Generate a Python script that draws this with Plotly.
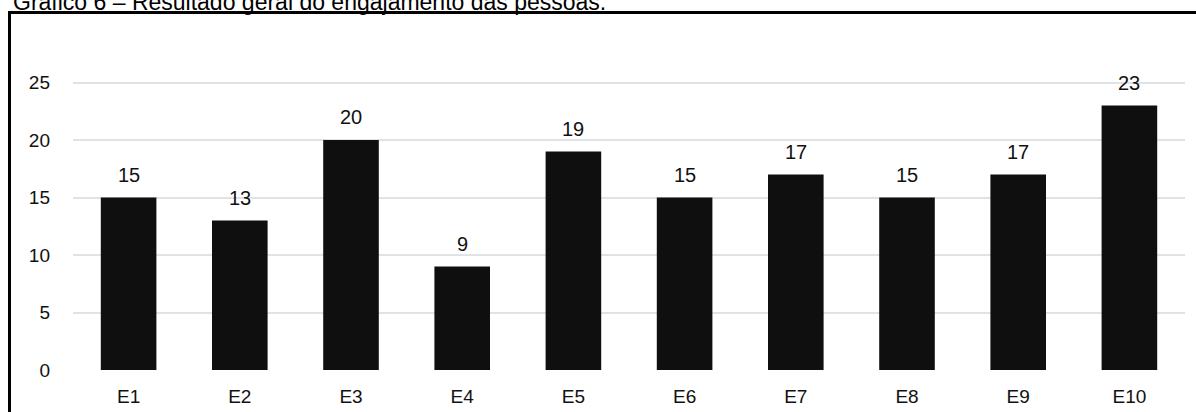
import plotly.graph_objects as go

# Engagement totals per item
categories = ["E1", "E2", "E3", "E4", "E5", "E6", "E7", "E8", "E9", "E10"]
values = [15, 13, 20, 9, 19, 15, 17, 15, 17, 23]
y_ticks = [0, 5, 10, 15, 20, 25]
title_text = "Gráfico 6 – Resultado geral do engajamento das pessoas."

W, H = 1196, 412
ML, MR, MT, MB = 73, 11, 48, 42
Y_MAX = 28
plot_w = W - ML - MR
plot_h = H - MT - MB


def px_x(px):
    return (px - ML) / plot_w


def px_y(py):
    return (H - MB - py) / plot_h


FONT = "Liberation Sans, Arial, sans-serif"

fig = go.Figure(
    go.Bar(
        x=categories,
        y=values,
        marker=dict(color="#0f0f0f", line=dict(width=0)),
        hoverinfo="skip",
    )
)

# value labels above each bar
for c, v in zip(categories, values):
    fig.add_annotation(
        x=c, y=v, text=str(v), showarrow=False,
        xanchor="center", yanchor="bottom", yshift=10,
        font=dict(family=FONT, size=20, color="#111111"),
    )

# frame around the chart (left and top edges)
fig.add_shape(type="line", xref="paper", yref="paper",
              x0=px_x(9.5), x1=px_x(9.5), y0=px_y(12.5), y1=px_y(H + 5),
              line=dict(color="black", width=3))
fig.add_shape(type="line", xref="paper", yref="paper",
              x0=px_x(8), x1=px_x(W + 5), y0=px_y(12.5), y1=px_y(12.5),
              line=dict(color="black", width=3))

fig.add_annotation(
    xref="paper", yref="paper", x=px_x(11), y=px_y(17),
    text=title_text, showarrow=False, xanchor="left", yanchor="bottom",
    font=dict(family=FONT, size=23, color="black"),
)

fig.update_layout(
    width=W, height=H,
    margin=dict(l=ML, r=MR, t=MT, b=MB, pad=0, autoexpand=False),
    paper_bgcolor="white", plot_bgcolor="white",
    bargap=0.5, showlegend=False,
    font=dict(family=FONT, color="black"),
)
fig.update_xaxes(
    showgrid=False, showline=False, zeroline=False, ticks="",
    automargin=False,
    tickfont=dict(family=FONT, size=19, color="#111111"),
    ticklabelstandoff=13,
)
fig.update_yaxes(
    range=[0, Y_MAX], tickvals=y_ticks, showgrid=True,
    gridcolor="#dfe3e8", gridwidth=1.5, zeroline=False, showline=False,
    automargin=False,
    ticks="", tickfont=dict(family=FONT, size=19, color="#111111"),
    ticklabelstandoff=22,
)

fig.write_html("out.html")
